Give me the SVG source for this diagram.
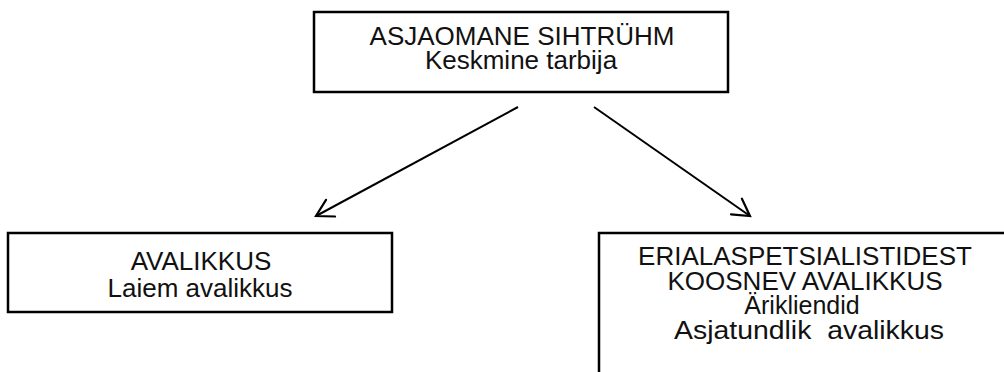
<svg xmlns="http://www.w3.org/2000/svg" width="1004" height="372" viewBox="0 0 1004 372">
  <style>
    .box { fill: #ffffff; stroke: #000000; stroke-width: 2.5; }
    .t { font-family: "Liberation Sans", Arial, sans-serif; font-size: 26px; fill: #111111; text-anchor: middle; }
    .conn { stroke: #000000; stroke-width: 2; fill: none; }
  </style>
  <defs>
    <marker id="arrow" markerUnits="userSpaceOnUse" markerWidth="24" markerHeight="24" viewBox="-20 -12 24 24" refX="0" refY="0" orient="auto">
      <path d="M -16.5,-9.5 L 0,0 L -16.5,9.5" fill="none" stroke="#000000" stroke-width="2.2" stroke-linecap="round" stroke-linejoin="miter"/>
    </marker>
  </defs>
  <rect width="1004" height="372" fill="#ffffff"/>
  <g id="node-top">
    <rect class="box" x="314" y="12" width="414" height="80"/>
    <text class="t" x="522" y="45">ASJAOMANE SIHTRÜHM</text>
    <text class="t" x="521" y="69">Keskmine tarbija</text>
  </g>
  <g id="node-left">
    <rect class="box" x="8" y="233" width="384" height="79"/>
    <text class="t" x="201" y="270">AVALIKKUS</text>
    <text class="t" x="200" y="297">Laiem avalikkus</text>
  </g>
  <g id="node-right">
    <rect class="box" x="599" y="233" width="420" height="150"/>
    <text class="t" x="805" y="265">ERIALASPETSIALISTIDEST</text>
    <text class="t" x="805" y="290">KOOSNEV AVALIKKUS</text>
    <text class="t" x="802" y="314" style="font-size:25px">Ärikliendid</text>
    <text class="t" x="809" y="339" textLength="270" lengthAdjust="spacingAndGlyphs" xml:space="preserve">Asjatundlik  avalikkus</text>
  </g>
  <g id="connectors">
    <line class="conn" x1="518" y1="107" x2="316" y2="216" marker-end="url(#arrow)"/>
    <line class="conn" x1="594" y1="107" x2="750" y2="216" marker-end="url(#arrow)"/>
  </g>
</svg>
